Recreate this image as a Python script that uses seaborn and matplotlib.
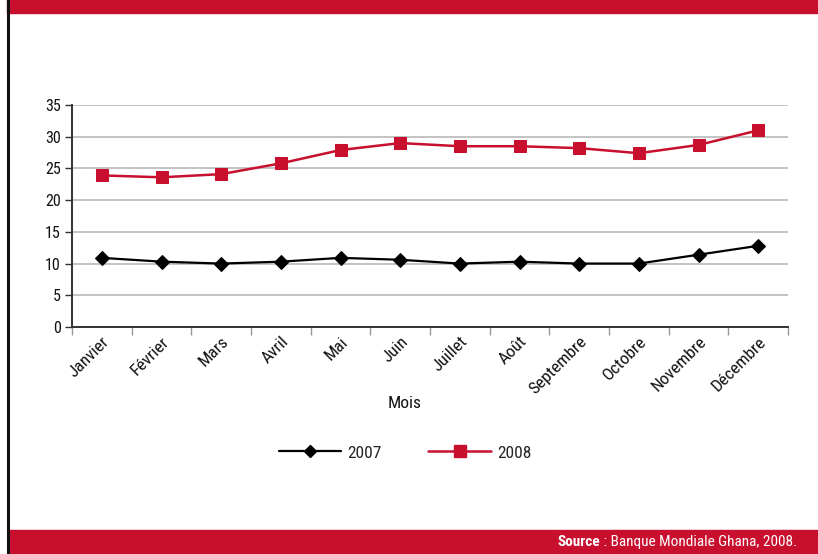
import matplotlib
matplotlib.use("Agg")
import matplotlib.pyplot as plt
from matplotlib.patches import Rectangle
from matplotlib.lines import Line2D
from matplotlib.ticker import FixedLocator
import seaborn as sns
import pandas as pd

mois = ["Janvier", "Février", "Mars", "Avril", "Mai", "Juin", "Juillet",
        "Août", "Septembre", "Octobre", "Novembre", "Décembre"]
valeurs_2007 = [10.9, 10.3, 10.0, 10.3, 10.9, 10.6, 10.0, 10.3, 10.0, 10.0, 11.4, 12.8]
valeurs_2008 = [23.9, 23.6, 24.1, 25.8, 27.9, 29.0, 28.5, 28.5, 28.2, 27.4, 28.7, 31.0]
y_ticks = [0, 5, 10, 15, 20, 25, 30, 35]

ROUGE = "#C8102E"
NOIR = "#000000"

sns.set_theme(style="white")
plt.rcParams["font.family"] = ["Roboto Condensed", "Archivo Narrow", "DejaVu Sans"]

df = pd.DataFrame({
    "Mois": mois * 2,
    "Valeur": valeurs_2007 + valeurs_2008,
    "Année": ["2007"] * 12 + ["2008"] * 12,
})

fig = plt.figure(figsize=(8.18, 5.54), dpi=100)
ax = fig.add_axes([72 / 818, 1 - 327 / 554, 716 / 818, 222 / 554])

sns.lineplot(data=df[df["Année"] == "2007"], x="Mois", y="Valeur", ax=ax,
             color=NOIR, linewidth=1.6, marker="D", markersize=7,
             markeredgecolor=NOIR, sort=False, legend=False)
sns.lineplot(data=df[df["Année"] == "2008"], x="Mois", y="Valeur", ax=ax,
             color=ROUGE, linewidth=1.8, marker="s", markersize=8.5,
             markeredgecolor=ROUGE, sort=False, legend=False)

ax.set_xlim(-0.5, 11.5)
ax.set_ylim(0, 35)
ax.set_yticks(y_ticks)
ax.yaxis.grid(True, color="#b3b3b3", linewidth=1.1)
ax.set_axisbelow(True)

for s in ["top", "right"]:
    ax.spines[s].set_visible(False)
for s in ["left", "bottom"]:
    ax.spines[s].set_color("#333333")
    ax.spines[s].set_linewidth(1.4)

ax.set_xticks(range(12))
ax.set_xticklabels(mois, rotation=45, ha="right", va="top",
                   rotation_mode="anchor", fontsize=12.5, color="#111111")
ax.tick_params(axis="x", which="major", length=0, pad=5)
ax.xaxis.set_minor_locator(FixedLocator([i + 0.5 for i in range(-1, 12)]))
ax.tick_params(axis="x", which="minor", length=6, width=1, color="#999999",
               bottom=True)
ax.tick_params(axis="y", length=5, width=1, color="#333333", left=True,
               labelsize=11.5, labelcolor="#111111", pad=3)

ax.set_xlabel("")
ax.set_ylabel("")
fig.text(405 / 818, 1 - 404 / 554, "Mois", ha="center", va="center",
         fontsize=12.5, color="#111111")

handles = [
    Line2D([], [], color=NOIR, linewidth=1.6, marker="D", markersize=6.5),
    Line2D([], [], color=ROUGE, linewidth=1.8, marker="s", markersize=8),
]
fig.legend(handles, ["2007", "2008"], loc="center",
           bbox_to_anchor=(405 / 818, 1 - 453 / 554),
           ncol=2, frameon=False, handlelength=3.6, columnspacing=2.7,
           handletextpad=0.35, fontsize=12.5)

# Bandeaux et bordure de la page
fig.patches.append(Rectangle((7 / 818, 1 - 13 / 554), 1, 13 / 554,
                             transform=fig.transFigure, color=ROUGE, zorder=0))
fig.patches.append(Rectangle((9 / 818, 0), 1, 24 / 554,
                             transform=fig.transFigure, color=ROUGE, zorder=0))
fig.add_artist(Line2D([8 / 818, 8 / 818], [0, 1], transform=fig.transFigure,
                      color="#111111", linewidth=2.2))

t2 = fig.text(797 / 818, 12 / 554, " : Banque Mondiale Ghana, 2008.", ha="right",
              va="center", color="white", fontsize=11)
fig.canvas.draw()
bb = t2.get_window_extent(fig.canvas.get_renderer())
fig.text(bb.x0 / fig.bbox.width, 12 / 554, "Source", ha="right", va="center",
         color="white", fontsize=11, fontweight="bold")

fig.savefig("out.png", dpi=100)
